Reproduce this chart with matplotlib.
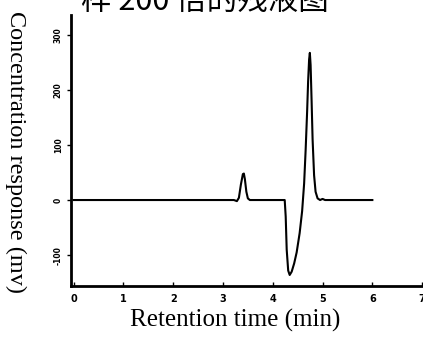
import matplotlib.pyplot as plt

# chromatogram trace (min, mV)
time = [0.0, 3.22, 3.28, 3.32, 3.36, 3.40, 3.42, 3.44, 3.47, 3.50, 3.54, 3.60,
        4.24, 4.26, 4.28, 4.31, 4.34, 4.38, 4.43, 4.48, 4.54, 4.59, 4.63, 4.66,
        4.69, 4.71, 4.73, 4.745, 4.76, 4.78, 4.80, 4.83, 4.86, 4.90, 4.95,
        5.00, 5.05, 5.10, 6.0]
response = [0, 0, -2, 4, 28, 47, 48, 38, 15, 3, 0, 0,
            0, -30, -90, -128, -136, -130, -115, -95, -60, -20, 30, 90,
            160, 215, 255, 267, 245, 180, 110, 45, 15, 3, 0,
            2, 0, 0, 0]

x_ticks = [0, 1, 2, 3, 4, 5, 6, 7]
y_ticks = [-100, 0, 100, 200, 300]

TITLE = '样 200 倍的残液图'
XLABEL = 'Retention time (min)'
YLABEL = 'Concentration response (mv)'


def main():
    fig = plt.figure(figsize=(4.23, 3.45), dpi=100)
    ax = fig.add_axes([0.168, 0.171, 0.830, 0.786])

    ax.plot(time, response, color='black', lw=1.5)

    ax.set_xlim(-0.05, 7.0)
    ax.set_ylim(-156, 336)
    ax.set_xticks(x_ticks)
    ax.set_yticks(y_ticks)
    ax.set_xticklabels([str(t) for t in x_ticks], fontsize=7, fontweight='bold',
                       family='DejaVu Sans')
    ax.set_yticklabels([str(t) for t in y_ticks], fontsize=5.5, fontweight='bold',
                       rotation=90, va='center', family='DejaVu Sans')
    ax.tick_params(axis='x', direction='in', length=3, width=1, pad=6)
    ax.tick_params(axis='y', direction='out', length=3, width=1, pad=3)

    for side in ['top', 'right']:
        ax.spines[side].set_visible(False)
    for side in ['left', 'bottom']:
        ax.spines[side].set_linewidth(2)

    fig.text(0.555, 0.072, XLABEL, ha='center', va='center',
             fontsize=18, family='Liberation Serif')
    fig.text(0.036, 0.56, YLABEL, ha='center', va='center', rotation=270,
             fontsize=17.5, family='Liberation Serif')
    fig.text(0.485, 0.997, TITLE, ha='center', va='center', fontsize=22,
             family=['Noto Sans CJK SC', 'DejaVu Sans'])

    fig.savefig('out.png', dpi=100)


if __name__ == "__main__":
    main()
